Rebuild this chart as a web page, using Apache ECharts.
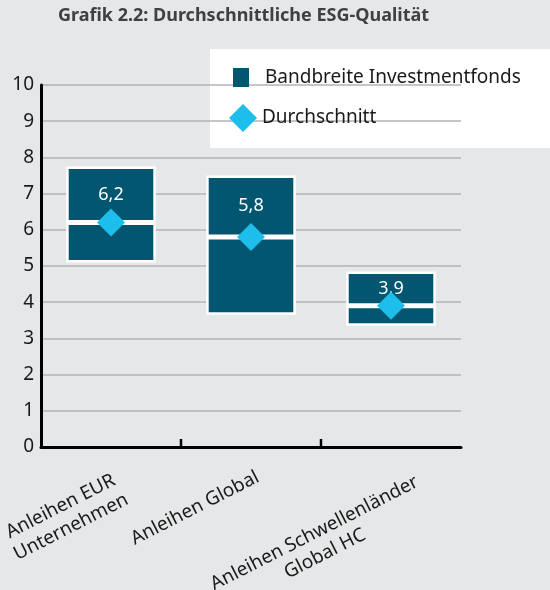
<!DOCTYPE html>
<html>
<head>
<meta charset="utf-8">
<script src="https://cdn.jsdelivr.net/npm/echarts@6/dist/echarts.min.js"></script>
<style>
html,body{margin:0;padding:0;background:#e6e7e8;}
#c{width:550px;height:590px;}
</style>
</head>
<body>
<div id="c"></div>
<script>
var categories = ['Anleihen EUR\nUnternehmen', 'Anleihen Global', 'Anleihen Schwellenländer\nGlobal HC'];
var rangeLow = [5.1, 3.65, 3.35];
var rangeHigh = [7.75, 7.5, 4.85];
var average = [6.2, 5.8, 3.9];
var yTicks = [0, 1, 2, 3, 4, 5, 6, 7, 8, 9, 10];
// inner category boundaries that carry an x-axis tick (after category index)
var tickAfter = [0, 1];

// label placement styling (kept apart from the data)
var labelPadding = [[12, -9, 0, 0], [0, -11, 13, 0], [36, -26, 0, 0]];

var FONT = 'Noto Sans';
var TEAL = '#02566f';
var BLUE = '#1dbdec';
var TXT = '#1a1a1a';
var chart = echarts.init(document.getElementById('c'));

var lowerSeg = rangeLow.map(function (v, i) { return +(average[i] - v).toFixed(3); });
var upperSeg = rangeHigh.map(function (v, i) { return +(v - average[i]).toFixed(3); });

var option = {
  backgroundColor: '#e6e7e8',
  textStyle: { fontFamily: FONT },
  title: {
    text: 'Grafik 2.2: Durchschnittliche ESG-Qualität',
    left: 58, top: 7, padding: 0,
    textStyle: { fontFamily: FONT, fontSize: 18, fontWeight: 'bold', color: '#404040' }
  },
  graphic: [{
    type: 'rect', left: 210, top: 49, shape: { width: 340, height: 99 },
    style: { fill: '#ffffff' }, z: 0
  }],
  legend: [{
    left: 233, top: 68, orient: 'vertical', padding: 0,
    data: ['Bandbreite Investmentfonds'],
    itemWidth: 16, itemHeight: 19,
    icon: 'rect',
    itemStyle: { borderWidth: 0, color: TEAL },
    textStyle: { fontFamily: FONT, fontSize: 19, color: TXT, padding: [2, 0, 0, 11] }
  }, {
    left: 229, top: 104, orient: 'vertical', padding: 0,
    data: ['Durchschnitt'],
    itemWidth: 28, itemHeight: 28,
    itemStyle: { opacity: 1, color: BLUE },
    textStyle: { fontFamily: FONT, fontSize: 19, color: TXT, padding: [1, 0, 0, 0] }
  }],
  grid: { left: 41, right: 89, top: 85, bottom: 143, containLabel: false, outerBoundsMode: 'none' },
  xAxis: {
    type: 'category',
    data: categories.map(function (c, i) {
      return { value: c, textStyle: { padding: labelPadding[i] } };
    }),
    axisLine: { lineStyle: { color: '#000', width: 3 } },
    axisTick: { show: false },
    axisLabel: {
      interval: 0, rotate: 27, margin: 40,
      fontFamily: FONT, fontSize: 19, color: TXT, lineHeight: 23,
      formatter: function (v) {
        return v.split('\n').map(function (s) { return '{a|' + s + '}'; }).join('\n');
      },
      rich: { a: { fontFamily: FONT, fontSize: 19, color: TXT, align: 'center', lineHeight: 23 } }
    }
  },
  yAxis: {
    type: 'value', min: 0, max: 10, interval: 1,
    axisLine: { show: true, lineStyle: { color: '#000', width: 3 } },
    axisTick: { show: false },
    splitLine: { lineStyle: { color: '#b3b3b3', width: 1.5 } },
    axisLabel: {
      fontFamily: FONT, fontSize: 19, color: TXT, margin: 7,
      formatter: function (v) { return yTicks.indexOf(v) >= 0 ? String(v) : ''; }
    }
  },
  series: [{
    type: 'bar', stack: 'r', data: rangeLow, barWidth: '64%', silent: true,
    itemStyle: { color: 'rgba(0,0,0,0)' }, z: 2
  }, {
    name: 'Bandbreite Investmentfonds',
    type: 'bar', stack: 'r', data: lowerSeg,
    itemStyle: { color: TEAL, borderColor: '#ffffff', borderWidth: 2.5 }, z: 2
  }, {
    name: 'Bandbreite Investmentfonds',
    type: 'bar', stack: 'r', data: upperSeg,
    itemStyle: { color: TEAL, borderColor: '#ffffff', borderWidth: 2.5 }, z: 2,
    label: {
      show: true, position: 'inside', color: '#ffffff', fontFamily: FONT, fontSize: 18,
      formatter: function (p) { return String(average[p.dataIndex]).replace('.', ','); }
    }
  }, {
    name: 'Durchschnitt',
    type: 'scatter', data: average, symbol: 'diamond', symbolSize: 28,
    itemStyle: { color: BLUE, opacity: 1 }, z: 3
  }, {
    type: 'custom', silent: true, z: 4,
    data: tickAfter.map(function (i) { return [i, 0]; }),
    renderItem: function (params, api) {
      var p = api.coord([api.value(0), 0]);
      var w = api.size([1, 0])[0];
      var x = Math.round(p[0] + w / 2);
      return {
        type: 'line',
        shape: { x1: x, y1: p[1], x2: x, y2: p[1] - 8 },
        style: { stroke: '#000', lineWidth: 2.5 }
      };
    }
  }]
};
chart.setOption(option);
</script>
</body>
</html>
